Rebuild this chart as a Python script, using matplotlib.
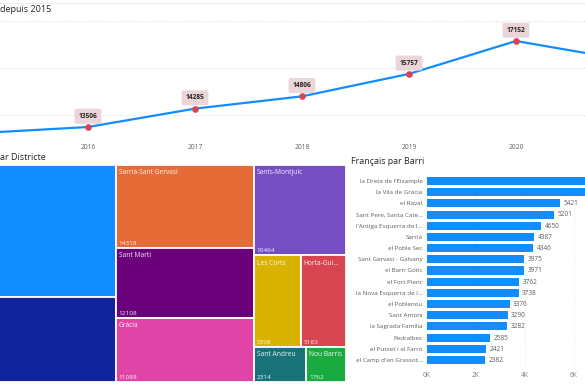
import matplotlib
matplotlib.use("Agg")
import matplotlib.pyplot as plt
from matplotlib.patches import Rectangle
from matplotlib.lines import Line2D

plt.rcParams['font.family'] = ['Open Sans', 'DejaVu Sans']

# ---------------- data ----------------
years = [2015, 2016, 2017, 2018, 2019, 2020, 2021]
year_totals = [13250, 13506, 14285, 14806, 15757, 17152, 16370]
year_ticks = [2016, 2017, 2018, 2019, 2020]
line_grid = [14000, 16000, 18000]

districts = ["Eixample", "Ciutat Vella", "Sarrià-Sant Gervasi", "Sant Martí", "Gràcia",
             "Sants-Montjuïc", "Les Corts", "Horta-Guinardó", "Sant Andreu", "Nou Barris"]
district_values = [25622, 16500, 14318, 12108, 11088, 10464, 5398, 5183, 2314, 1762]
district_colors = ["#118DFF", "#12239E", "#E66C37", "#6B007B", "#E044A7",
                   "#744EC2", "#D9B300", "#D64550", "#197278", "#1AAB40"]
# treemap arrangement (columns -> rows -> tiles)
treemap_columns = [["Eixample", "Ciutat Vella"],
                   ["Sarrià-Sant Gervasi", "Sant Martí", "Gràcia"],
                   ["Sants-Montjuïc", ["Les Corts", "Horta-Guinardó"], ["Sant Andreu", "Nou Barris"]]]

barris = ["la Dreta de l'Eixample", "la Vila de Gràcia", "el Raval", "Sant Pere, Santa Cate...",
          "l'Antiga Esquerra de l...", "Sarrià", "el Poble Sec", "Sant Gervasi - Galvany",
          "el Barri Gòtic", "el Fort Pienc", "la Nova Esquerra de l...", "el Poblenou",
          "Sant Antoni", "la Sagrada Família", "Pedralbes", "el Putxet i el Farró",
          "el Camp d'en Grassot..."]
barri_values = [6900, 6550, 5421, 5201, 4650, 4387, 4346, 3975, 3971, 3762, 3738,
                3376, 3290, 3282, 2585, 2421, 2382]
bar_ticks = [0, 2000, 4000, 6000]
bar_tick_labels = ["0K", "2K", "4K", "6K"]

# ---------------- figure ----------------
W, H = 585, 390
fig = plt.figure(figsize=(W / 100, H / 100), dpi=100)
fig.patch.set_facecolor("white")


def ax_px(l, t, r, b):
    return fig.add_axes([l / W, 1 - b / H, (r - l) / W, (b - t) / H])


TITLE_C = "#252423"
LABEL_C = "#605E5C"

# faint top border
fig.add_artist(Line2D([0, 1], [1 - 3 / H, 1 - 3 / H], color="#EEEEEE", lw=0.8))

# ---------------- line chart ----------------
ax = ax_px(0, 0, 585, 140)
ax.set_facecolor("none")
ax.plot(years, year_totals, color="#118DFF", lw=1.6, zorder=2, solid_capstyle="round")
ax.plot(years, year_totals, "o", color="#D64550", ms=4.8, zorder=3, mec="none")
for yr, v in zip(years, year_totals):
    ax.annotate(str(v), (yr, v), xytext=(0, 7.8), textcoords="offset points",
                ha="center", va="center", fontsize=4.8, fontweight="bold", color="#252423",
                bbox=dict(boxstyle="round,pad=0.6,rounding_size=0.3", fc="#EAD5D8", ec="none"),
                zorder=4, annotation_clip=False)
ax.set_xlim(2015.178, 2020.645)
ax.set_ylim(12955, 18891)
ax.set_yticks(line_grid)
ax.set_yticklabels([])
ax.yaxis.grid(True, ls=(0, (1, 2)), color="#D8D8D8", lw=0.7)
ax.set_axisbelow(True)
ax.set_xticks(year_ticks)
ax.set_xticklabels([str(y) for y in year_ticks], fontsize=4.8, color=LABEL_C)
ax.tick_params(length=0, pad=3.2)
for s in ax.spines.values():
    s.set_visible(False)

fig.text(0, 1 - 10 / H, "depuis 2015", fontsize=6.5, color=TITLE_C, ha="left", va="center")

# ---------------- treemap ----------------
fig.text(0, 1 - 158 / H, "ar Districte", fontsize=6.5, color=TITLE_C, ha="left", va="center")
tl, tt, tr, tb = -39, 165, 346, 382
tax = ax_px(tl, tt, tr, tb)
tax.set_xlim(0, 1)
tax.set_ylim(1, 0)
tax.axis("off")
val = dict(zip(districts, district_values))
col = dict(zip(districts, district_colors))
total = sum(district_values)
box_w_px = tr - tl


def fit(name, width_px):
    avail = width_px - 6
    if len(name) * 3.2 <= avail:
        return name
    return name[:max(int(avail / 3.2) - 3, 1)] + "..."


x = 0.0
for column in treemap_columns:
    rows = [r if isinstance(r, list) else [r] for r in column]
    csum = sum(val[n] for r in rows for n in r)
    cw = csum / total
    y = 0.0
    for r in rows:
        rs = sum(val[n] for n in r)
        rh = rs / csum
        xx = x
        for n in r:
            w = val[n] / rs * cw
            tax.add_patch(Rectangle((xx, y), w, rh, fc=col[n], ec="white", lw=1.3))
            # labels sit at the tile's left edge; draw them only where that edge is on the canvas
            if tl + xx * box_w_px >= 0:
                tax.annotate(fit(n, w * box_w_px), (xx, y), xytext=(2.2, -3.0),
                             textcoords="offset points", ha="left", va="top",
                             fontsize=4.8, color="white", alpha=0.92)
                tax.annotate(str(val[n]), (xx, y + rh), xytext=(2.2, 1.6),
                             textcoords="offset points", ha="left", va="bottom",
                             fontsize=4.6, color="white", alpha=0.92)
            xx += w
        y += rh
    x += cw

# ---------------- bar chart ----------------
fig.text(351 / W, 1 - 161 / H, "Français par Barri", fontsize=6.4, color=TITLE_C,
         ha="left", va="center")
n = len(barris)
step = (360 - 181) / (n - 1)
bax = ax_px(427, 181 - step / 2, 585, 360 + step / 2)
bax.set_facecolor("none")
pos = list(range(n))
bax.barh(pos, barri_values, height=0.72, color="#118DFF", zorder=2)
for i, v in zip(pos, barri_values):
    bax.annotate(str(v), (v, i), xytext=(2.5, -0.3), textcoords="offset points",
                 ha="left", va="center", fontsize=4.7, color=LABEL_C,
                 annotation_clip=False)
bax.set_xlim(0, 6449)
bax.set_ylim(n - 0.5, -0.5)
bax.set_yticks(pos)
bax.set_yticklabels(barris, fontsize=4.5, color=LABEL_C)
bax.set_xticks(bar_ticks)
bax.set_xticklabels(bar_tick_labels, fontsize=4.8, color="#808080")
bax.tick_params(length=0)
bax.tick_params(axis="y", pad=3.2)
bax.tick_params(axis="x", pad=4.5)
bax.xaxis.grid(True, ls=(0, (1, 2)), color="#E4E4E4", lw=0.6)
bax.set_axisbelow(True)
for s in bax.spines.values():
    s.set_visible(False)

fig.savefig("out.png", dpi=100, facecolor="white")
